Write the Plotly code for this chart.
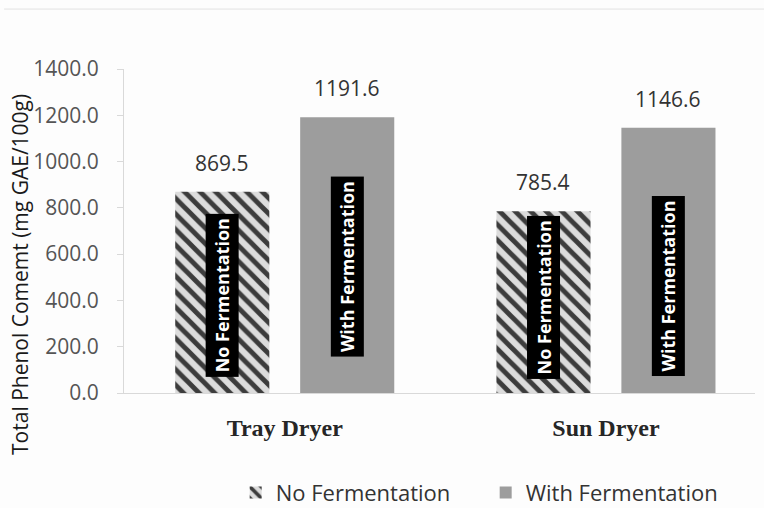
import plotly.graph_objects as go

# Data
dryers = ["Tray Dryer", "Sun Dryer"]
series_names = ["No Fermentation", "With Fermentation"]
no_fermentation = [869.5, 785.4]
with_fermentation = [1191.6, 1146.6]

# Inner label heights (centre of the black tag, in axis units)
tag_centres = {
    "No Fermentation": [423, 415],
    "With Fermentation": [545, 462],
}

BARGAP = 0.222
BARGROUPGAP = 0.247
slot = (1 - BARGAP) / 2          # width of one bar slot in category units
offsets = [-slot / 2, slot / 2]  # centre offset of each series within a group

x_idx = list(range(len(dryers)))

fig = go.Figure()
fig.add_trace(go.Bar(
    name=series_names[0],
    x=x_idx,
    y=no_fermentation,
    marker=dict(
        color="#d4d4d4",
        line=dict(width=0),
        pattern=dict(shape="\\", bgcolor="#dcdcdc", fgcolor="#3c3c3c",
                     size=11, solidity=0.45, fillmode="replace"),
    ),
))
fig.add_trace(go.Bar(
    name=series_names[1],
    x=x_idx,
    y=with_fermentation,
    marker=dict(color="#9d9d9d", line=dict(width=0)),
))

annotations = []
for s, (name, vals) in enumerate(zip(series_names, [no_fermentation, with_fermentation])):
    for i, v in enumerate(vals):
        xpos = x_idx[i] + offsets[s]
        # value label above the bar
        annotations.append(dict(
            x=xpos, y=v, xref="x", yref="y",
            text=f"{v:.1f}", showarrow=False,
            yanchor="bottom", yshift=13,
            font=dict(family="Open Sans", size=21, color="#333333"),
        ))
        # rotated series tag inside the bar
        annotations.append(dict(
            x=xpos, y=tag_centres[name][i], xref="x", yref="y",
            text=f"<b>{name}</b>", showarrow=False, textangle=-90,
            bgcolor="#000000", borderpad=4,
            font=dict(family="Open Sans", size=18, color="#ffffff"),
        ))

# y-axis title
annotations.append(dict(
    x=-0.165, y=0.367, xref="paper", yref="paper",
    xanchor="center", yanchor="middle",
    text="Total Phenol Comemt (mg GAE/100g)", showarrow=False, textangle=-90,
    font=dict(family="Open Sans", size=21, color="#1a1a1a"),
))

fig.update_layout(
    width=764, height=508,
    margin=dict(l=124, r=9, t=69, b=115, autoexpand=False),
    paper_bgcolor="#fdfdfd",
    plot_bgcolor="#fdfdfd",
    barmode="group",
    bargap=BARGAP,
    bargroupgap=BARGROUPGAP,
    showlegend=True,
    legend=dict(
        orientation="h", x=0.177, xanchor="left", y=-0.243, yanchor="top",
        font=dict(family="Open Sans", size=22, color="#333333"),
        itemwidth=30, traceorder="normal", entrywidth=205,
        bgcolor="rgba(0,0,0,0)",
    ),
    annotations=annotations,
    shapes=[dict(
        type="line", xref="paper", yref="paper",
        x0=-0.19, x1=1.02, y0=1.185, y1=1.185,
        line=dict(color="#e2e2e2", width=1),
    )],
)

fig.update_xaxes(
    tickmode="array", tickvals=x_idx, ticktext=dryers,
    range=[-0.5004, 1.464],
    showline=True, linecolor="#d9d9d9", linewidth=1,
    ticks="", showgrid=False, zeroline=False, automargin=False,
    ticklabelstandoff=13,
    tickfont=dict(family="Liberation Serif", size=24, color="#262626", weight="bold"),
)
fig.update_yaxes(
    range=[0, 1400], dtick=200, tickformat=".1f",
    showline=True, linecolor="#d9d9d9", linewidth=1,
    ticks="outside", ticklen=6, tickcolor="#d9d9d9",
    showgrid=False, zeroline=False, automargin=False,
    ticklabelstandoff=14,
    tickfont=dict(family="Open Sans", size=21, color="#555555"),
)

fig.write_html("out.html")
